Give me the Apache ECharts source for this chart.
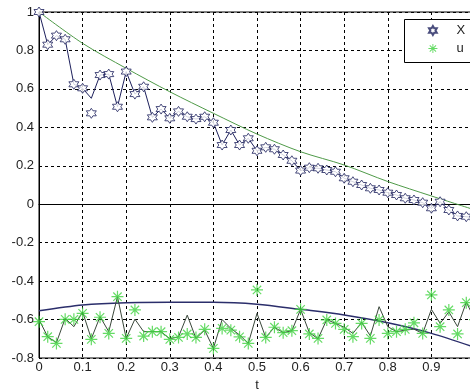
<!DOCTYPE html>
<html>
<head>
<meta charset="utf-8">
<script src="https://cdn.jsdelivr.net/npm/echarts@6/dist/echarts.min.js"></script>
<style>
html,body{margin:0;padding:0;background:#fff;}
#chart{width:470px;height:392px;}
</style>
</head>
<body>
<div id="chart"></div>
<script>
// sample times of the noisy measurements
const tMark = [0,0.02,0.04,0.06,0.08,0.1,0.12,0.14,0.16,0.18,0.2,0.22,0.24,0.26,0.28,0.3,0.32,0.34,0.36,0.38,0.4,0.42,0.44,0.46,0.48,0.5,0.52,0.54,0.56,0.58,0.6,0.62,0.64,0.66,0.68,0.7,0.72,0.74,0.76,0.78,0.8,0.82,0.84,0.86,0.88,0.9,0.92,0.94,0.96,0.98,1];
// x markers (hexagram)
const xMark = [1.0,0.83,0.877,0.858,0.624,0.603,0.473,0.672,0.677,0.507,0.69,0.573,0.611,0.452,0.495,0.447,0.483,0.455,0.443,0.455,0.424,0.308,0.386,0.308,0.343,0.278,0.296,0.286,0.256,0.226,0.175,0.19,0.187,0.178,0.169,0.135,0.117,0.1,0.083,0.074,0.06,0.048,0.031,0.022,0.008,-0.021,0.013,-0.03,-0.061,-0.065,-0.07];
// x connecting line
const xLine = [1.0,0.83,0.877,0.858,0.624,0.603,0.551,0.672,0.677,0.507,0.69,0.573,0.611,0.452,0.495,0.447,0.483,0.455,0.443,0.455,0.424,0.308,0.386,0.308,0.343,0.278,0.296,0.286,0.256,0.226,0.175,0.19,0.187,0.178,0.169,0.135,0.117,0.1,0.083,0.074,0.06,0.048,0.031,0.022,0.008,-0.021,0.013,-0.03,-0.061,-0.065,-0.07];
// u markers (asterisk)
const uMark = [-0.611,-0.689,-0.724,-0.599,-0.599,-0.568,-0.703,-0.588,-0.672,-0.481,-0.698,-0.55,-0.686,-0.663,-0.663,-0.703,-0.693,-0.675,-0.693,-0.651,-0.75,-0.646,-0.655,-0.69,-0.724,-0.446,-0.693,-0.64,-0.668,-0.658,-0.547,-0.675,-0.698,-0.602,-0.62,-0.651,-0.689,-0.62,-0.698,-0.602,-0.672,-0.663,-0.651,-0.617,-0.672,-0.472,-0.637,-0.55,-0.675,-0.512,-0.6];
// u connecting line
const uLine = [-0.6,-0.69,-0.72,-0.594,-0.637,-0.56,-0.7,-0.585,-0.663,-0.481,-0.698,-0.598,-0.663,-0.663,-0.663,-0.7,-0.69,-0.577,-0.698,-0.655,-0.75,-0.6,-0.646,-0.68,-0.724,-0.568,-0.693,-0.64,-0.668,-0.658,-0.547,-0.668,-0.7,-0.6,-0.62,-0.64,-0.672,-0.615,-0.685,-0.533,-0.637,-0.663,-0.655,-0.65,-0.672,-0.547,-0.62,-0.56,-0.637,-0.51,-0.6];
// smooth reference curves
const tCurve = [0,0.1,0.2,0.3,0.4,0.5,0.6,0.7,0.8,0.9,1];
const upperCurve = [1.0,0.837,0.707,0.585,0.473,0.365,0.273,0.204,0.118,0.043,-0.03];
const lowerCurve = [-0.554,-0.524,-0.512,-0.51,-0.51,-0.52,-0.547,-0.576,-0.617,-0.672,-0.745];
// axis ticks
const xTicks = {min:0, max:1, step:0.1};
const yTicks = {min:-0.8, max:1, step:0.2};
const legendNames = ['X', 'u'];

const pairs = (ts, vs) => ts.map((t, i) => [t, vs[i]]);
const hexagram = 'path://M50 0L64.4 25L93.3 25L78.9 50L93.3 75L64.4 75L50 100L35.6 75L6.7 75L21.1 50L6.7 25L35.6 25Z';
const asterisk = 'path://M45 0L55 0L55 100L45 100Z M0 45L100 45L100 55L0 55Z M18.5 11.5L88.5 81.5L81.5 88.5L11.5 18.5Z M81.5 11.5L88.5 18.5L18.5 88.5L11.5 81.5Z';
const fmt = v => String(Math.round(v * 10) / 10);
const font = "Arial, 'Liberation Sans', sans-serif";

const chart = echarts.init(document.getElementById('chart'), null, {renderer: 'canvas'});
chart.setOption({
  animation: false,
  backgroundColor: '#fff',
  textStyle: {fontFamily: font},
  grid: {left: 39, top: 12, right: -5, bottom: 34, containLabel: false, outerBoundsMode: 'none',
         show: true, borderColor: '#000', borderWidth: 1, backgroundColor: 'transparent'},
  graphic: [{
    type: 'polyline', z: 50,
    shape: {points: [[520, 19.5], [404.5, 19.5], [404.5, 62.5], [520, 62.5]]},
    style: {fill: '#fff', stroke: '#000', lineWidth: 1}
  }],
  legend: {
    orient: 'vertical', left: 428, top: 24, z: 60,
    data: legendNames,
    itemWidth: 9, itemHeight: 9, itemGap: 5,
    padding: 0,
    textStyle: {fontFamily: font, fontSize: 13, color: '#222', padding: [0, 0, 0, 14]}
  },
  xAxis: {
    type: 'value', min: xTicks.min, max: xTicks.max, interval: xTicks.step,
    name: 't', nameLocation: 'middle', nameGap: 15,
    nameTextStyle: {fontFamily: font, fontSize: 13, color: '#222'},
    axisLine: {show: true, lineStyle: {color: '#000', width: 1}},
    axisTick: {show: false},
    axisLabel: {fontFamily: font, fontSize: 13, color: '#222', margin: 3, formatter: fmt},
    splitLine: {show: true, lineStyle: {color: '#000', type: [3, 3], width: 1}}
  },
  yAxis: {
    type: 'value', min: yTicks.min, max: yTicks.max, interval: yTicks.step,
    axisLine: {show: true, lineStyle: {color: '#000', width: 1}},
    axisTick: {show: false},
    axisLabel: {fontFamily: font, fontSize: 13, color: '#222', margin: 5, formatter: fmt},
    splitLine: {show: true, lineStyle: {color: '#000', type: [3, 3], width: 1}}
  },
  series: [
    {name: 'upper', type: 'line', data: pairs(tCurve, upperCurve), smooth: 0.3, showSymbol: false,
     lineStyle: {color: '#4f9a48', width: 1}, z: 2, silent: true},
    {name: 'lower', type: 'line', data: pairs(tCurve, lowerCurve), smooth: 0.3, showSymbol: false,
     lineStyle: {color: '#2b2e6b', width: 1.5}, z: 2, silent: true},
    {name: 'xline', type: 'line', data: pairs(tMark, xLine), showSymbol: false,
     lineStyle: {color: '#1d205c', width: 1}, z: 3, silent: true},
    {name: 'uline', type: 'line', data: pairs(tMark, uLine), showSymbol: false,
     lineStyle: {color: '#3a473a', width: 1}, z: 3, silent: true},
    {name: 'X', type: 'scatter', data: pairs(tMark, xMark), symbol: hexagram, symbolSize: 10,
     itemStyle: {color: '#ffffff', borderColor: '#1d205c', borderWidth: 1}, z: 4},
    {name: 'u', type: 'scatter', data: pairs(tMark, uMark), symbol: asterisk, symbolSize: 12,
     itemStyle: {color: '#3fd23f'}, z: 4}
  ]
});
</script>
</body>
</html>
